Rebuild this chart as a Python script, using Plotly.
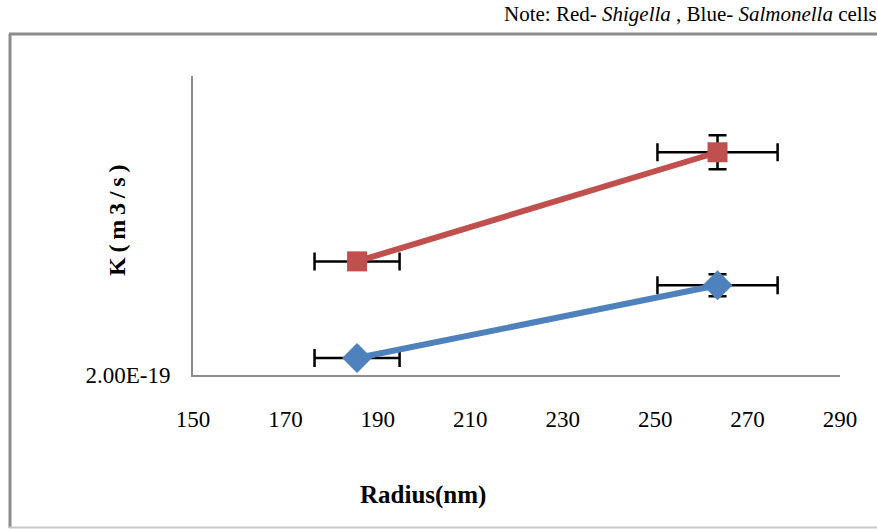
import plotly.graph_objects as go

# Particle radius (nm) and rate constant K (m3/s) for the two cell types
radius = [185.5, 263.5]
radius_err = [9.2, 13.0]

k_shigella = [4.28e-19, 6.47e-19]
k_shigella_err = [0.06e-19, 0.34e-19]

k_salmonella = [2.34e-19, 3.80e-19]
k_salmonella_err = [0.06e-19, 0.22e-19]

x_ticks = [150, 170, 190, 210, 230, 250, 270, 290]
y_ticks = [2.0e-19]
y_tick_text = ["2.00E-19"]

RED = "#C0504D"
BLUE = "#4F81BD"
AXIS = "#8C8C8C"
LABEL_FONT = "Liberation Serif, serif"

fig = go.Figure()

fig.add_trace(go.Scatter(
    x=radius, y=k_shigella, mode="lines+markers", name="Shigella",
    line=dict(color=RED, width=6),
    marker=dict(symbol="square", size=20, color=RED),
    error_x=dict(type="data", array=radius_err, color="black", thickness=2.5, width=9),
    error_y=dict(type="data", array=k_shigella_err, color="black", thickness=2.5, width=9),
))

fig.add_trace(go.Scatter(
    x=radius, y=k_salmonella, mode="lines+markers", name="Salmonella",
    line=dict(color=BLUE, width=6),
    marker=dict(symbol="diamond", size=23, color=BLUE),
    error_x=dict(type="data", array=radius_err, color="black", thickness=2.5, width=9),
    error_y=dict(type="data", array=k_salmonella_err, color="black", thickness=2.5, width=9),
))

# Plot-area geometry in pixels
L, R, T, B = 193, 840, 76, 375
W, H = 877, 529
pw, ph = R - L, B - T


def px(xp):
    return (xp - L) / pw


def py(yp):
    return (B - yp) / ph


shapes = [
    # outer frame of the figure
    dict(type="line", xref="paper", yref="paper", x0=px(10), x1=px(10), y0=py(34), y1=py(528),
         line=dict(color=AXIS, width=3)),
    dict(type="line", xref="paper", yref="paper", x0=px(9), x1=px(890), y0=py(34), y1=py(34),
         line=dict(color=AXIS, width=3)),
    dict(type="line", xref="paper", yref="paper", x0=px(9), x1=px(890), y0=py(527.5), y1=py(527.5),
         line=dict(color="#C8C8C8", width=2)),
]

SP = "\u2009"
y_title = SP.join("K(m3/s)")

annotations = [
    dict(text="Note: Red- <i>Shigella</i> , Blue- <i>Salmonella</i> cells",
         xref="paper", yref="paper", x=px(879), y=py(14), xanchor="right", yanchor="middle",
         showarrow=False, font=dict(family=LABEL_FONT, size=21, color="black")),
    dict(text="<b>" + y_title + "</b>", xref="paper", yref="paper", x=px(117), y=py(221),
         xanchor="center", yanchor="middle", textangle=-90, showarrow=False,
         font=dict(family=LABEL_FONT, size=24, color="black")),
    dict(text="<b>Radius(nm)</b>", xref="paper", yref="paper", x=px(423), y=py(495),
         xanchor="center", yanchor="middle", showarrow=False,
         font=dict(family=LABEL_FONT, size=25, color="black")),
]

fig.update_layout(
    width=W, height=H,
    margin=dict(l=L, r=W - R, t=T, b=H - B),
    paper_bgcolor="white", plot_bgcolor="white",
    showlegend=False,
    shapes=shapes,
    annotations=annotations,
    xaxis=dict(
        range=[150, 290], tickvals=x_ticks, showgrid=False, zeroline=False,
        showline=True, linecolor=AXIS, linewidth=2, ticks="",
        ticklabelstandoff=22,
        tickfont=dict(family=LABEL_FONT, size=23, color="black"),
    ),
    yaxis=dict(
        range=[2.0e-19, 8.0e-19], tickvals=y_ticks, ticktext=y_tick_text,
        showgrid=False, zeroline=False, showline=True, linecolor=AXIS, linewidth=2,
        ticks="", ticklabelstandoff=16,
        tickfont=dict(family=LABEL_FONT, size=23, color="black"),
    ),
)

fig.write_html("out.html")
